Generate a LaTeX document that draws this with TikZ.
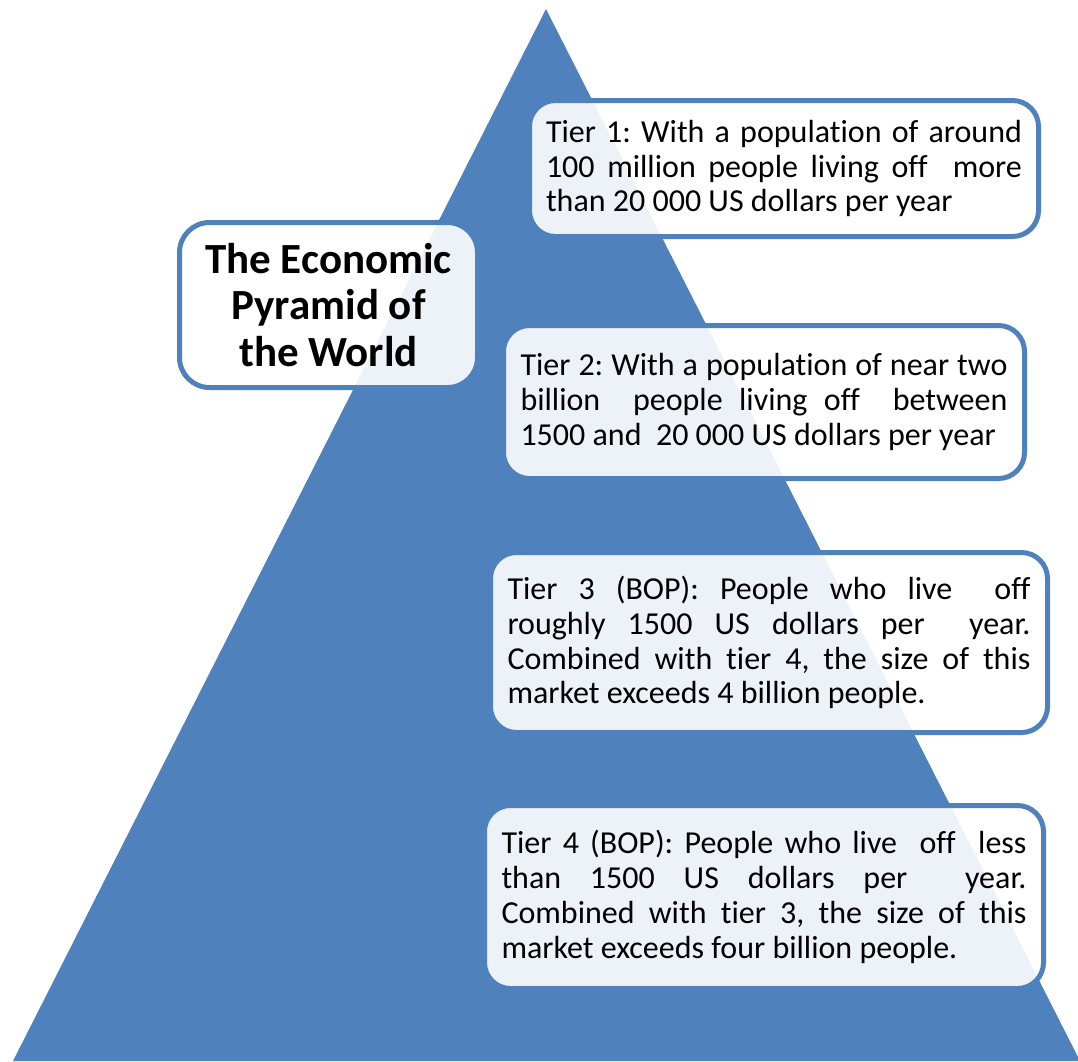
\documentclass[tikz,border=0pt]{standalone}
\usepackage{fontspec}
\setmainfont{Carlito}[Ligatures=NoCommon]
\frenchspacing
\definecolor{pyr}{HTML}{4F81BD}
% one fully justified line of a given width
\newcommand\jl[2]{\makebox[#1][s]{#2}}
\begin{document}
\begin{tikzpicture}[x=1pt,y=-1pt,
  infobox/.style={draw=pyr, line width=5pt, fill=white, fill opacity=0.9,
    text opacity=1, rounded corners=26pt, inner sep=0pt, outer sep=0pt,
    anchor=north west, font=\fontsize{32}{34.8}\selectfont, align=left},
  titlebox/.style={infobox, rounded corners=30pt,
    font=\fontsize{43}{46.5}\selectfont\bfseries, align=center},
]
\useasboundingbox (0,0) rectangle (1078,1061);

% the pyramid
\coordinate (apex) at (546,9);
\coordinate (baseR) at (1080,1061);
\coordinate (baseL) at (13,1061);
\fill[pyr] (apex) -- (baseR) -- (baseL) -- cycle;

% title
\node[titlebox, minimum width=298pt, minimum height=165pt] (title) at (179.5,222.5)
  {The Economic\\Pyramid of\\the World};

% tiers
\node[infobox, minimum width=509pt, minimum height=136pt] (tier1) at (529.5,100.5)
  {\jl{476pt}{Tier 1: With a population of around}\\
   \jl{476pt}{100 million people living off\ \ more}\\
   than 20 000 US dollars per year};

\node[infobox, minimum width=521pt, minimum height=153pt] (tier2) at (503.5,325.5)
  {\jl{487pt}{Tier 2: With a population of near two}\\
   \jl{487pt}{billion\ \ people living off\ \ between}\\
   1500 and\ \ 20 000 US dollars per year};

\node[infobox, minimum width=557pt, minimum height=180pt] (tier3) at (490.5,552.5)
  {\jl{523pt}{Tier 3 (BOP): People who live\ \ off}\\
   \jl{523pt}{roughly 1500 US dollars per\ \ year.}\\
   \jl{523pt}{Combined with tier 4, the size of this}\\
   market exceeds 4 billion people.};

\node[infobox, minimum width=559pt, minimum height=183pt] (tier4) at (484.5,805.5)
  {\jl{525pt}{Tier 4 (BOP): People who live\ \ off\ \ less}\\
   \jl{525pt}{than 1500 US dollars per\ \ year.}\\
   \jl{525pt}{Combined with tier 3, the size of this}\\
   market exceeds four billion people.};
\end{tikzpicture}
\end{document}
